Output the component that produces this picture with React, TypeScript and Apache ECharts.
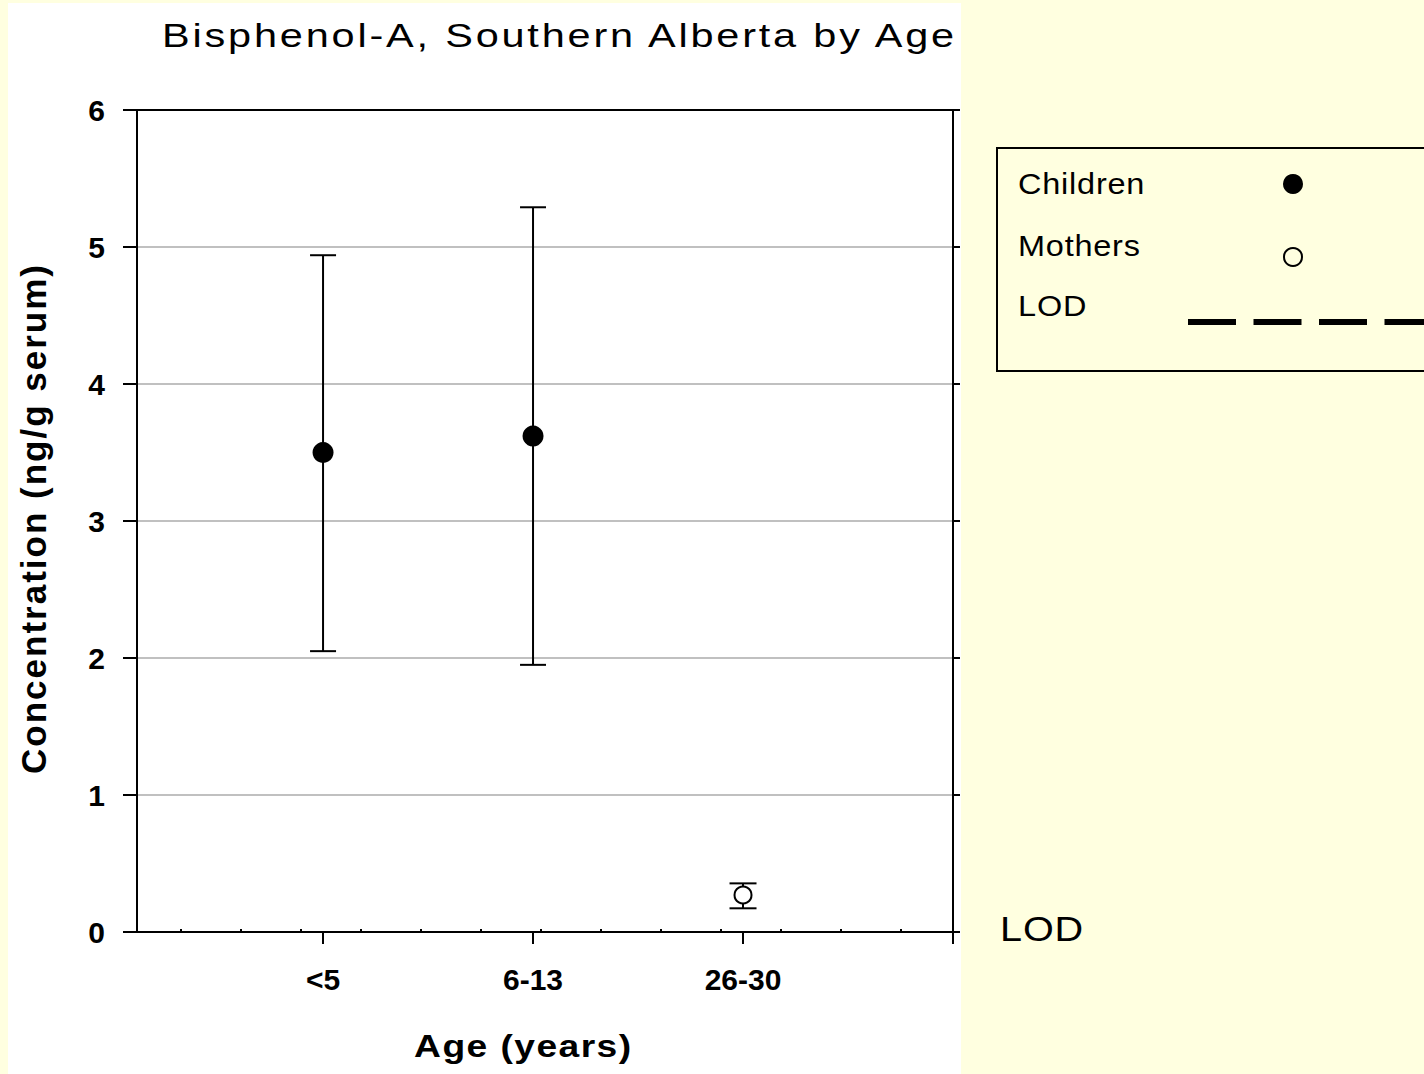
import React, { useEffect, useRef } from "react";
import * as echarts from "echarts";

// ---------- data ----------
const ageGroups = ["<5", "6-13", "26-30"];
const ageGroupX = [1, 2, 3];
const childrenMean = [3.5, 3.62];
const childrenLow = [2.05, 1.95];
const childrenHigh = [4.94, 5.29];
const mothersMean = [0.27];
const mothersLow = [0.173];
const mothersHigh = [0.355];
const xMajorTicks = [1, 2, 3, 4];
const xMinorTicks = [0.322, 0.609, 0.895, 1.181, 1.467, 1.752, 2.038, 2.324, 2.609, 2.895, 3.181, 3.467, 3.752];
const legendLabels = ["Children", "Mothers", "LOD"];

const TITLE = "Bisphenol-A, Southern Alberta by Age";
const Y_NAME = "Concentration (ng/g serum)";
const X_NAME = "Age (years)";
const X_MIN = 0.114;
const X_MAX = 4;

const FONT = "'Liberation Sans', Arial, Helvetica, sans-serif";
const YELLOW = "#FFFFE0";

const spacing: Record<string, number> = {
  [TITLE]: 2.3,
  [X_NAME]: 1.2,
  [Y_NAME]: 2,
  Children: 0.7,
  Mothers: 0.7,
  LOD: 0.8,
};

export default function App() {
  const ref = useRef<HTMLDivElement>(null);

  useEffect(() => {
    const el = ref.current!;
    const chart = echarts.init(el, undefined, { renderer: "svg" });

    const black = { color: "#000", width: 2 };
    const childrenPts = childrenMean.map((v, i) => [ageGroupX[i], v]);
    const mothersPts = mothersMean.map((v, i) => [ageGroupX[2 + i], v]);
    const errData = [
      ...childrenMean.map((_, i) => [ageGroupX[i], childrenLow[i], childrenHigh[i], 13]),
      ...mothersMean.map((_, i) => [ageGroupX[2 + i], mothersLow[i], mothersHigh[i], 13.5]),
    ];

    const legendY = [184, 246.5, 306.5];

    chart.setOption({
      animation: false,
      backgroundColor: "transparent",
      grid: { left: 137, right: 1424 - 953, top: 110, bottom: 1074 - 932, containLabel: false },
      xAxis: [
        {
          type: "value",
          position: "bottom",
          min: X_MIN,
          max: X_MAX,
          axisLine: { show: true, onZero: false, lineStyle: black },
          axisTick: { show: true, customValues: xMajorTicks, length: 12, lineStyle: black },
          axisLabel: {
            customValues: ageGroupX,
            formatter: (v: number) => ageGroups[ageGroupX.indexOf(Math.round(v))] ?? "",
            fontSize: 30,
            fontWeight: "bold",
            fontFamily: FONT,
            color: "#000",
            margin: 32,
          },
          splitLine: { show: false },
        },
        {
          type: "value",
          position: "bottom",
          min: X_MIN,
          max: X_MAX,
          axisLine: { show: false, onZero: false },
          axisTick: { show: true, inside: true, customValues: xMinorTicks, length: 3, lineStyle: black },
          axisLabel: { show: false },
          splitLine: { show: false },
        },
        {
          type: "value",
          position: "top",
          min: X_MIN,
          max: X_MAX,
          axisLine: { show: true, onZero: false, lineStyle: black },
          axisTick: { show: false },
          axisLabel: { show: false },
          splitLine: { show: false },
        },
      ],
      yAxis: [
        {
          type: "value",
          position: "left",
          min: 0,
          max: 6,
          interval: 1,
          axisLine: { show: true, onZero: false, lineStyle: black },
          axisTick: { show: true, length: 14, lineStyle: black },
          axisLabel: { fontSize: 30, fontWeight: "bold", fontFamily: FONT, color: "#000", margin: 32 },
          splitLine: { show: true, lineStyle: { color: "#c0c0c0", width: 2 } },
        },
        {
          type: "value",
          position: "right",
          min: 0,
          max: 6,
          interval: 1,
          axisLine: { show: true, onZero: false, lineStyle: black },
          axisTick: { show: true, length: 7, lineStyle: black },
          axisLabel: { show: false },
          splitLine: { show: false },
        },
      ],
      series: [
        {
          type: "custom",
          name: "error",
          xAxisIndex: 0,
          yAxisIndex: 0,
          z: 3,
          encode: { x: 0, y: [1, 2] },
          data: errData,
          renderItem: (params: any, api: any) => {
            const x = api.value(0);
            const lo = api.coord([x, api.value(1)]);
            const hi = api.coord([x, api.value(2)]);
            const hw = api.value(3);
            const st = { stroke: "#000", lineWidth: 2 };
            return {
              type: "group",
              children: [
                { type: "line", shape: { x1: lo[0], y1: lo[1], x2: hi[0], y2: hi[1] }, style: st },
                { type: "line", shape: { x1: hi[0] - hw, y1: hi[1], x2: hi[0] + hw, y2: hi[1] }, style: st },
                { type: "line", shape: { x1: lo[0] - hw, y1: lo[1], x2: lo[0] + hw, y2: lo[1] }, style: st },
              ],
            };
          },
        },
        {
          type: "scatter",
          name: "Children",
          xAxisIndex: 0,
          yAxisIndex: 0,
          z: 5,
          symbol: "circle",
          symbolSize: 21,
          itemStyle: { color: "#000", opacity: 1 },
          data: childrenPts,
        },
        {
          type: "scatter",
          name: "Mothers",
          xAxisIndex: 0,
          yAxisIndex: 0,
          z: 5,
          symbol: "circle",
          symbolSize: 17,
          itemStyle: { color: "#fff", borderColor: "#000", borderWidth: 2, opacity: 1 },
          data: mothersPts,
        },
      ],
      graphic: [
        {
          type: "text",
          x: 559.5,
          y: 35.5,
          scaleX: 1.22,
          style: { text: TITLE, font: `34px ${FONT}`, fill: "#000", align: "center", verticalAlign: "middle" },
        },
        {
          type: "text",
          x: 33,
          y: 518.5,
          rotation: Math.PI / 2,
          style: { text: Y_NAME, font: `bold 35px ${FONT}`, fill: "#000", align: "center", verticalAlign: "middle" },
        },
        {
          type: "text",
          x: 523.3,
          y: 1046,
          scaleX: 1.2,
          style: { text: X_NAME, font: `bold 31px ${FONT}`, fill: "#000", align: "center", verticalAlign: "middle" },
        },
        {
          type: "text",
          x: 1000,
          y: 929,
          scaleX: 1.1,
          style: { text: "LOD", font: `36px ${FONT}`, fill: "#000", align: "left", verticalAlign: "middle" },
        },
        {
          type: "rect",
          shape: { x: 997, y: 148, width: 520, height: 223 },
          style: { fill: YELLOW, stroke: "#000", lineWidth: 2 },
        },
        ...legendLabels.map((t, i) => ({
          type: "text",
          x: 1018,
          y: legendY[i],
          scaleX: 1.12,
          style: { text: t, font: `29px ${FONT}`, fill: "#000", align: "left", verticalAlign: "middle" },
        })),
        { type: "circle", shape: { cx: 1293, cy: 184, r: 10 }, style: { fill: "#000" } },
        { type: "circle", shape: { cx: 1293, cy: 257, r: 9 }, style: { fill: YELLOW, stroke: "#000", lineWidth: 2 } },
        {
          type: "line",
          shape: { x1: 1188, y1: 322, x2: 1440, y2: 322 },
          style: { stroke: "#000", lineWidth: 6, lineDash: [48, 17.5] },
        },
      ],
    });

    const applySpacing = () => {
      el.querySelectorAll("text").forEach((t) => {
        const s = spacing[(t.textContent || "").trim()];
        if (s) (t as SVGTextElement).style.letterSpacing = `${s}px`;
      });
    };
    applySpacing();
    chart.on("finished", applySpacing);

    return () => {
      chart.dispose();
    };
  }, []);

  return (
    <div style={{ position: "absolute", left: 0, top: 0, width: 1424, height: 1074, background: YELLOW, overflow: "hidden" }}>
      <div style={{ position: "absolute", left: 8, top: 3, width: 953, height: 1071, background: "#fff" }} />
      <div ref={ref} style={{ position: "absolute", left: 0, top: 0, width: 1424, height: 1074 }} />
    </div>
  );
}
